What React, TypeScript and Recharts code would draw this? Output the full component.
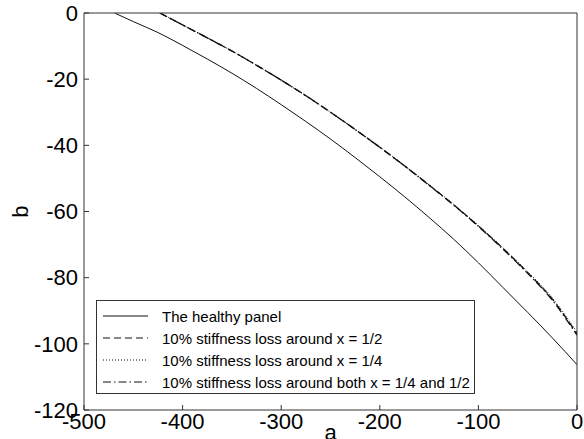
import { Legend, Line, LineChart, XAxis, YAxis } from "recharts";

// a-values (x) and b-values (y)
const HEALTHY_A = [-469, -450, -425, -400, -375, -350, -325, -300, -275, -250, -225, -200, -175, -150, -125, -100, -75, -50, -25, 0];
const HEALTHY_B = [0, -2.6, -5.9, -9.8, -13.9, -18.2, -22.8, -27.7, -32.8, -38.1, -43.7, -49.5, -55.5, -61.8, -68.4, -75.5, -83, -90.5, -98.2, -106.3];

const DAMAGED_A = [-423, -400, -375, -350, -325, -300, -275, -250, -225, -200, -175, -150, -125, -100, -75, -50, -25, 0];
const MID_B = [0, -3.6, -7.5, -11.5, -15.8, -20.3, -25, -30, -35.2, -40.6, -46.2, -52, -58, -64.4, -71.2, -78.5, -86.5, -97];
const QUARTER_B = [0, -3.6, -7.5, -11.5, -15.8, -20.3, -25, -30, -35.2, -40.5, -46.1, -51.9, -57.9, -64.2, -71, -78.2, -86.1, -96.5];
const BOTH_B = [0, -3.6, -7.5, -11.5, -15.8, -20.3, -25, -30, -35.2, -40.6, -46.2, -52.1, -58.1, -64.5, -71.4, -78.7, -86.8, -97.4];

const X_TICKS = [-500, -400, -300, -200, -100, 0];
const Y_TICKS = [-120, -100, -80, -60, -40, -20, 0];

const SERIES = [
  { key: "healthy", label: "The healthy panel", a: HEALTHY_A, b: HEALTHY_B, dash: undefined, width: 1 },
  { key: "mid", label: "10% stiffness loss around x = 1/2", a: DAMAGED_A, b: MID_B, dash: "7 4", width: 1.3 },
  { key: "quarter", label: "10% stiffness loss around x = 1/4", a: DAMAGED_A, b: QUARTER_B, dash: "1 2", width: 1 },
  { key: "both", label: "10% stiffness loss around both x = 1/4 and 1/2", a: DAMAGED_A, b: BOTH_B, dash: "8 3 1.5 3", width: 1.3 },
];

const FONT = "'Liberation Sans', Arial, Helvetica, sans-serif";
const INK = "#111";
const AXIS = "#333";

function toPoints(a: number[], b: number[]) {
  return a.map((x, i) => ({ a: x, b: b[i] }));
}

function LegendBox() {
  return (
    <div
      style={{
        width: 377,
        height: 88,
        border: `1px solid ${AXIS}`,
        background: "#fff",
        fontFamily: FONT,
        fontSize: 15,
        color: "#000",
        paddingTop: 4,
        boxSizing: "content-box",
      }}
    >
      {SERIES.map((s) => (
        <div key={s.key} style={{ height: 22, display: "flex", alignItems: "center" }}>
          <svg width={65} height={22} style={{ flex: "none" }}>
            <line x1={6} x2={51} y1={11} y2={11} stroke={INK} strokeWidth={1} strokeDasharray={s.dash} />
          </svg>
          <span style={{ whiteSpace: "nowrap" }}>{s.label}</span>
        </div>
      ))}
    </div>
  );
}

export default function App() {
  const tick = { fontSize: 22, fill: "#000", fontFamily: FONT };
  return (
    <div style={{ position: "absolute", left: 0, top: 0, background: "#fff" }}>
      <LineChart width={584} height={439} margin={{ top: 12, right: 6, bottom: 0, left: 0 }}>
        <XAxis
          dataKey="a"
          type="number"
          domain={[-500, 0]}
          ticks={X_TICKS}
          allowDataOverflow
          height={29}
          tickSize={-5}
          tickMargin={8}
          stroke={AXIS}
          tick={tick}
          label={{ value: "a", position: "insideBottom", offset: -1, fontSize: 22, fill: "#000", fontFamily: FONT }}
        />
        <XAxis
          xAxisId="top"
          orientation="top"
          dataKey="a"
          type="number"
          domain={[-500, 0]}
          ticks={X_TICKS}
          height={1}
          tickSize={-5}
          stroke={AXIS}
          tickFormatter={() => ""}
        />
        <YAxis
          type="number"
          domain={[-120, 0]}
          ticks={Y_TICKS}
          allowDataOverflow
          width={84}
          tickSize={-5}
          tickMargin={11}
          stroke={AXIS}
          tick={tick}
          label={{
            content: ({ viewBox }: any) => (
              <text
                x={viewBox.x + 20}
                y={viewBox.y + viewBox.height / 2}
                transform={`rotate(-90 ${viewBox.x + 20} ${viewBox.y + viewBox.height / 2})`}
                textAnchor="middle"
                dominantBaseline="central"
                fontSize={22}
                fill="#000"
                fontFamily={FONT}
              >
                b
              </text>
            ),
          }}
        />
        <YAxis
          yAxisId="right"
          orientation="right"
          type="number"
          domain={[-120, 0]}
          ticks={Y_TICKS}
          width={1}
          tickSize={-5}
          stroke={AXIS}
          tickFormatter={() => ""}
        />
        {SERIES.map((s) => (
          <Line
            key={s.key}
            data={toPoints(s.a, s.b)}
            dataKey="b"
            name={s.label}
            type="monotone"
            stroke={INK}
            strokeWidth={s.width}
            strokeDasharray={s.dash}
            dot={false}
            activeDot={false}
            isAnimationActive={false}
          />
        ))}
        <Legend
          layout="horizontal"
          verticalAlign="middle"
          content={() => <LegendBox />}
          wrapperStyle={{ left: 96, top: 300, width: 379, height: 93 }}
        />
      </LineChart>
    </div>
  );
}
